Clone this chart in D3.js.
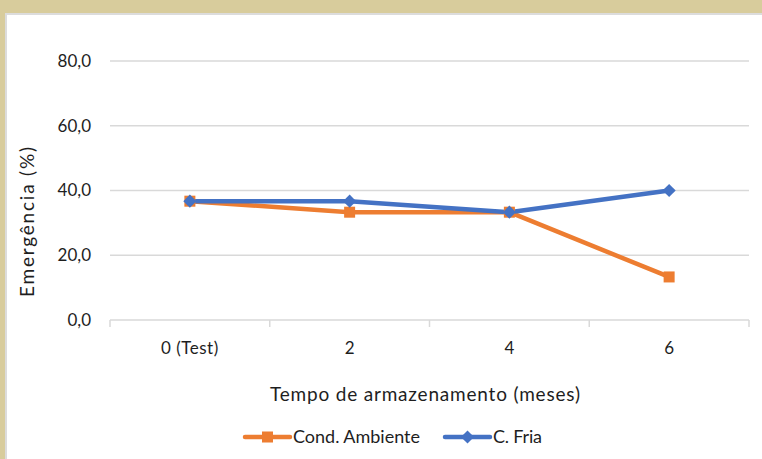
<!DOCTYPE html>
<html><head><meta charset="utf-8">
<script src="https://cdn.jsdelivr.net/npm/d3@7"></script>
<style>body{margin:0;background:#fff}svg{display:block}text{font-family:Lato,"Open Sans",sans-serif;fill:#1e1e1e}</style>
</head><body>
<svg id="c" width="762" height="459"></svg>
<script>
const categories = ["0 (Test)", "2", "4", "6"];
const ambiente = [36.7, 33.3, 33.3, 13.3];
const fria = [36.7, 36.7, 33.3, 40.0];
const yTicks = [0, 20, 40, 60, 80];
const seriesNames = ["Cond. Ambiente", "C. Fria"];
const colors = ["#ED7D31", "#4472C4"];

const svg = d3.select("#c");
// frame
svg.append("rect").attr("x",0).attr("y",0).attr("width",762).attr("height",14).attr("fill","#D8CC9C");
svg.append("rect").attr("x",0).attr("y",0).attr("width",5).attr("height",459).attr("fill","#D8CC9C");
svg.append("rect").attr("x",5).attr("y",13).attr("width",757).attr("height",2).attr("fill","#DCDCDC");
svg.append("rect").attr("x",5).attr("y",13).attr("width",2).attr("height",446).attr("fill","#DCDCDC");

const L=110, R=749, T=61, B=320;
const x = d3.scaleBand().domain(categories).range([L,R]);
const y = d3.scaleLinear().domain([0,80]).range([B,T]);
const fmt = v => d3.format(".1f")(v).replace(".", ",");

// gridlines
svg.append("g").selectAll("line").data(yTicks.filter(d=>d>0)).join("line")
  .attr("x1",L).attr("x2",R).attr("y1",d=>y(d)).attr("y2",d=>y(d))
  .attr("stroke","#D9D9D9").attr("stroke-width",1.5);

// y labels
svg.append("g").selectAll("text").data(yTicks).join("text")
  .attr("x",91).attr("y",d=>y(d)).attr("dy","0.35em").attr("text-anchor","end")
  .attr("font-size",17).text(fmt);

// x axis
svg.append("line").attr("x1",L).attr("x2",R).attr("y1",B).attr("y2",B).attr("stroke","#D9D9D9").attr("stroke-width",1.5);
const bounds = categories.map(c=>x(c)).concat([x(categories[categories.length-1])+x.bandwidth()]);
svg.append("g").selectAll("line").data(bounds).join("line")
  .attr("x1",d=>d).attr("x2",d=>d).attr("y1",B).attr("y2",B+7)
  .attr("stroke","#D9D9D9").attr("stroke-width",1.5);
svg.append("g").selectAll("text").data(categories).join("text")
  .attr("x",d=>x(d)+x.bandwidth()/2).attr("y",348).attr("dy","0.35em")
  .attr("text-anchor","middle").attr("font-size",17).attr("letter-spacing",d=>d.length>1?"0.5px":"0").text(d=>d);

// titles
svg.append("text").attr("x",270).attr("y",394).attr("dy","0.35em")
  .attr("font-size",19).attr("textLength",310).attr("lengthAdjust","spacing").text("Tempo de armazenamento (meses)");
svg.append("text").attr("transform","translate(27,297) rotate(-90)").attr("dy","0.35em")
  .attr("font-size",19).attr("textLength",150).attr("lengthAdjust","spacing").text("Emergência (%)");

// lines
const line = d3.line().x((d,i)=>x(categories[i])+x.bandwidth()/2).y(d=>y(d));
const data = [ambiente, fria];
data.forEach((s,k)=>{
  svg.append("path").datum(s).attr("d",line).attr("fill","none")
    .attr("stroke",colors[k]).attr("stroke-width",4.5).attr("stroke-linejoin","round").attr("stroke-linecap","round");
});
// markers
svg.append("g").selectAll("rect").data(ambiente).join("rect")
  .attr("x",(d,i)=>x(categories[i])+x.bandwidth()/2-5.5).attr("y",d=>y(d)-5.5)
  .attr("width",11).attr("height",11).attr("fill",colors[0]);
const diamond = d3.symbol().type(d3.symbolDiamond2).size(110);
svg.append("g").selectAll("path").data(fria).join("path")
  .attr("transform",(d,i)=>`translate(${x(categories[i])+x.bandwidth()/2},${y(d)})`)
  .attr("d",diamond).attr("fill",colors[1]);

// legend
const leg = [{x:245,name:seriesNames[0],c:colors[0],m:"sq",w:127},{x:445,name:seriesNames[1],c:colors[1],m:"dm",w:49}];
leg.forEach(l=>{
  const g = svg.append("g");
  g.append("line").attr("x1",l.x).attr("x2",l.x+45).attr("y1",437).attr("y2",437)
    .attr("stroke",l.c).attr("stroke-width",4.5).attr("stroke-linecap","round");
  if(l.m==="sq") g.append("rect").attr("x",l.x+22.5-5.5).attr("y",437-5.5).attr("width",11).attr("height",11).attr("fill",l.c);
  else g.append("path").attr("transform",`translate(${l.x+22.5},437)`).attr("d",diamond).attr("fill",l.c);
  g.append("text").attr("x",l.x+48).attr("y",437).attr("dy","0.35em").attr("font-size",18)
    .attr("textLength",l.w).attr("lengthAdjust","spacing").text(l.name);
});
</script>
</body></html>
